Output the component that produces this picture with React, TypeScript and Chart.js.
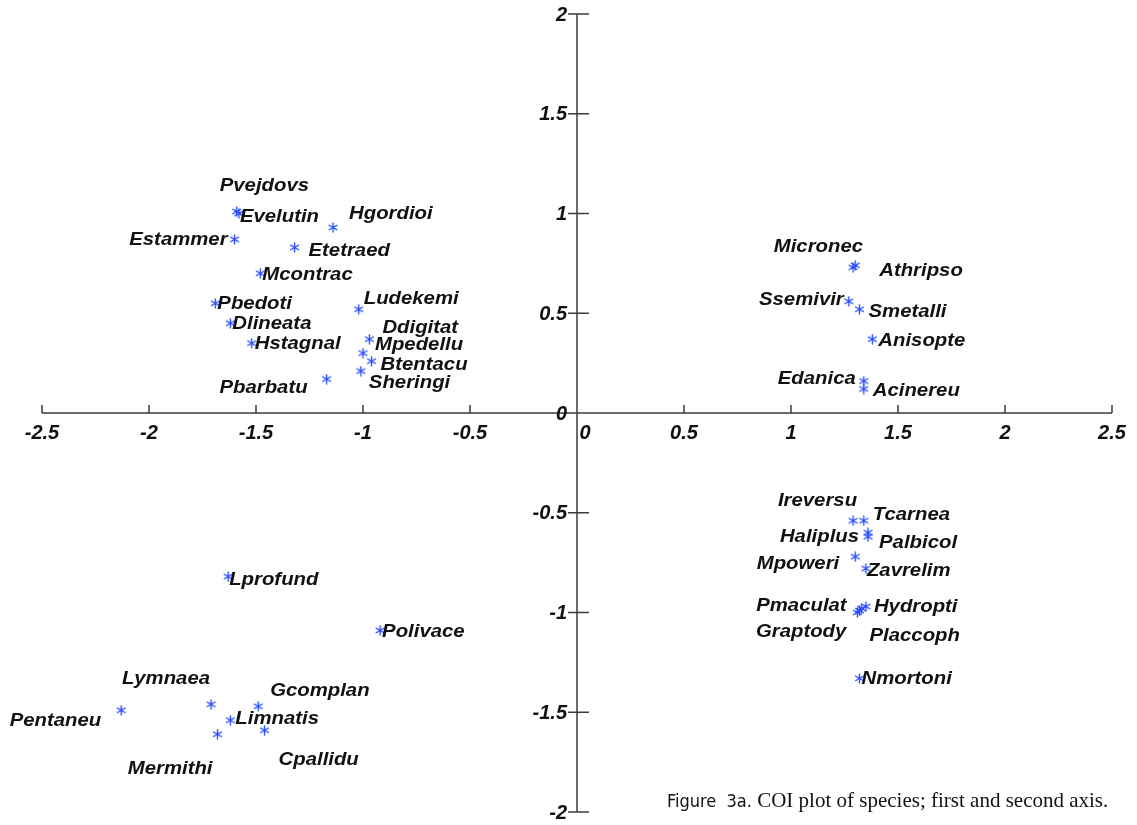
import React, { useEffect, useRef } from "react";
import { Chart, registerables } from "chart.js";

Chart.register(...registerables);

// ---- data ----
const species = [
  "Pvejdovs", "Evelutin", "Hgordioi", "Estammer", "Etetraed", "Mcontrac", "Pbedoti", "Ludekemi",
  "Dlineata", "Hstagnal", "Ddigitat", "Mpedellu", "Btentacu", "Sheringi", "Pbarbatu",
  "Micronec", "Athripso", "Ssemivir", "Smetalli", "Anisopte", "Edanica", "Acinereu",
  "Ireversu", "Tcarnea", "Haliplus", "Palbicol", "Mpoweri", "Zavrelim", "Pmaculat", "Hydropti",
  "Graptody", "Placcoph", "Nmortoni",
  "Lprofund", "Polivace", "Pentaneu", "Lymnaea", "Limnatis", "Gcomplan", "Cpallidu", "Mermithi",
];
const axis1 = [
  -1.59, -1.58, -1.14, -1.6, -1.32, -1.48, -1.69, -1.02,
  -1.62, -1.52, -0.97, -1.0, -0.96, -1.01, -1.17,
  1.29, 1.3, 1.27, 1.32, 1.38, 1.34, 1.34,
  1.29, 1.34, 1.36, 1.36, 1.3, 1.35, 1.33, 1.35,
  1.31, 1.32, 1.32,
  -1.63, -0.92, -2.13, -1.71, -1.62, -1.49, -1.46, -1.68,
];
const axis2 = [
  1.01, 1.0, 0.93, 0.87, 0.83, 0.7, 0.55, 0.52,
  0.45, 0.35, 0.37, 0.3, 0.26, 0.21, 0.17,
  0.73, 0.74, 0.56, 0.52, 0.37, 0.16, 0.12,
  -0.54, -0.54, -0.6, -0.62, -0.72, -0.78, -0.98, -0.97,
  -1.0, -0.99, -1.33,
  -0.82, -1.09, -1.49, -1.46, -1.54, -1.47, -1.59, -1.61,
];
const xTicks = [-2.5, -2, -1.5, -1, -0.5, 0, 0.5, 1, 1.5, 2, 2.5];
const xTickLabels = ["-2.5", "-2", "-1.5", "-1", "-0.5", "0", "0.5", "1", "1.5", "2", "2.5"];
const yTicks = [2, 1.5, 1, 0.5, 0, -0.5, -1, -1.5, -2];
const yTickLabels = ["2", "1.5", "1", "0.5", "0", "-0.5", "-1", "-1.5", "-2"];

// ---- label layout (pixel offsets from each point; "L" = text starts there, "R" = text ends there) ----
const labelAlign = [
  "L", "L", "L", "R", "L", "L", "L", "L",
  "L", "L", "L", "L", "L", "L", "R",
  "R", "L", "R", "L", "L", "R", "L",
  "R", "L", "R", "L", "R", "L", "R", "L",
  "R", "L", "L",
  "L", "L", "R", "R", "L", "L", "L", "R",
];
const labelDx = [
  -17, 1, 16, -7, 14, 2, 2, 5,
  2, 3, 13, 12, 9, 8, -19,
  10, 24, -5, 9, 6, -8, 9,
  4, 9, -9, 11, -16, 1, -15, 8,
  -11, 10, 2,
  1, 2, -20, -1, 5, 12, 14, -5,
];
const labelDy = [
  -21, 8, -8, 6, 9, 7, 6, -5,
  6, 6, -6, -3, 9, 17, 14,
  -15, 11, 4, 8, 7, 3, 7,
  -15, -1, 9, 11, 12, 7, 2, 5,
  24, 30, 6,
  8, 7, 16, -20, 4, -10, 35, 40,
];

function makeAsterisk(): HTMLCanvasElement {
  const c = document.createElement("canvas");
  c.width = 11;
  c.height = 11;
  const g = c.getContext("2d")!;
  g.strokeStyle = "rgb(35,75,255)";
  g.lineWidth = 1.4;
  g.lineCap = "round";
  const cx = 5.5, cy = 5.5, r = 4.5;
  for (let k = 0; k < 3; k++) {
    const a = Math.PI / 2 + (k * Math.PI) / 3;
    g.beginPath();
    g.moveTo(cx + r * Math.cos(a), cy + r * Math.sin(a));
    g.lineTo(cx - r * Math.cos(a), cy - r * Math.sin(a));
    g.stroke();
  }
  return c;
}

const axesPlugin = {
  id: "centerAxes",
  beforeDatasetsDraw(chart: any) {
    const { ctx, scales } = chart;
    const xs = scales.x, ys = scales.y;
    const x0 = xs.getPixelForValue(0);
    const y0 = ys.getPixelForValue(0);
    ctx.save();
    ctx.strokeStyle = "#3c3c3c";
    ctx.lineWidth = 1.5;
    ctx.beginPath();
    ctx.moveTo(xs.getPixelForValue(xTicks[0]), y0);
    ctx.lineTo(xs.getPixelForValue(xTicks[xTicks.length - 1]), y0);
    ctx.moveTo(x0, ys.getPixelForValue(yTicks[0]));
    ctx.lineTo(x0, ys.getPixelForValue(yTicks[yTicks.length - 1]));
    xTicks.forEach((v) => {
      const px = xs.getPixelForValue(v);
      ctx.moveTo(px, y0);
      ctx.lineTo(px, y0 - 8);
    });
    yTicks.forEach((v) => {
      const py = ys.getPixelForValue(v);
      ctx.moveTo(x0 - 9, py);
      ctx.lineTo(x0 + 12, py);
    });
    ctx.stroke();

    ctx.fillStyle = "#111";
    ctx.font = "bold italic 20px 'Liberation Sans', Arial, sans-serif";
    ctx.textBaseline = "middle";
    ctx.textAlign = "center";
    xTicks.forEach((v, i) => {
      const px = xs.getPixelForValue(v) + (v === 0 ? 8 : 0);
      ctx.fillText(xTickLabels[i], px, y0 + 20);
    });
    ctx.textAlign = "right";
    yTicks.forEach((v, i) => {
      const py = ys.getPixelForValue(v);
      ctx.fillText(yTickLabels[i], x0 - 10, py + 1);
    });
    ctx.restore();
  },
};

const labelsPlugin = {
  id: "pointLabels",
  afterDatasetsDraw(chart: any) {
    const { ctx } = chart;
    const meta = chart.getDatasetMeta(0);
    ctx.save();
    ctx.fillStyle = "#111";
    ctx.font = "bold italic 18px 'Liberation Sans', Arial, sans-serif";
    ctx.textBaseline = "alphabetic";
    meta.data.forEach((pt: any, i: number) => {
      ctx.save();
      ctx.translate(pt.x + labelDx[i], pt.y + labelDy[i]);
      ctx.scale(1.13, 1);
      ctx.textAlign = labelAlign[i] === "R" ? "right" : "left";
      ctx.fillText(species[i], 0, 0);
      ctx.restore();
    });
    ctx.restore();
  },
};

export default function App() {
  const ref = useRef<HTMLCanvasElement>(null);
  useEffect(() => {
    document.body.style.margin = "0";
    const canvas = ref.current!;
    const star = makeAsterisk();
    const chart = new Chart(canvas, {
      type: "scatter",
      data: {
        datasets: [
          {
            data: species.map((_, i) => ({ x: axis1[i], y: axis2[i] })),
            pointStyle: star as any,
            pointRadius: 5,
            pointHoverRadius: 5,
          },
        ],
      },
      options: {
        responsive: false,
        animation: false,
        layout: { padding: { left: 42, right: 25, top: 14, bottom: 13 } },
        scales: {
          x: { type: "linear", min: -2.5, max: 2.5, display: false },
          y: { type: "linear", min: -2, max: 2, display: false },
        },
        plugins: { legend: { display: false }, tooltip: { enabled: false } },
      },
      plugins: [axesPlugin, labelsPlugin],
    });
    return () => chart.destroy();
  }, []);

  return (
    <div style={{ position: "relative", width: 1137, height: 825, background: "#fff" }}>
      <canvas ref={ref} width={1137} height={825} style={{ display: "block" }} />
      <div
        style={{
          position: "absolute",
          left: 667,
          top: 788,
          whiteSpace: "nowrap",
          color: "#111",
          fontFamily: "'Liberation Serif', 'Times New Roman', serif",
          fontSize: 21,
        }}
      >
        <span
          style={{
            fontFamily: "'Liberation Sans Narrow', 'DejaVu Sans Condensed', sans-serif",
            fontSize: 18,
          }}
        >
          Figure&nbsp;&nbsp;3a.
        </span>{" "}
        COI plot of species; first and second axis.
      </div>
    </div>
  );
}
